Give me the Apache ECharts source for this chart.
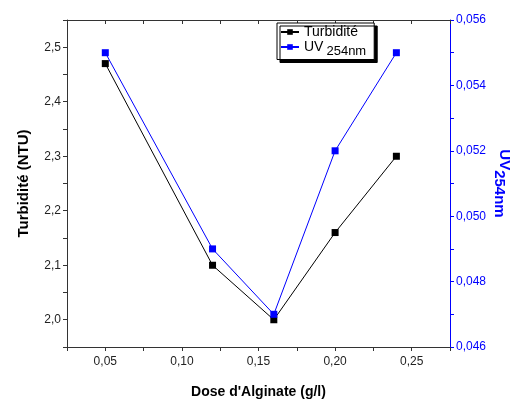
<!DOCTYPE html>
<html><head><meta charset="utf-8">
<script src="https://cdn.jsdelivr.net/npm/echarts@6/dist/echarts.min.js"></script>
<style>html,body{margin:0;padding:0;background:#fff}#c{width:515px;height:401px}</style>
</head><body><div id="c"></div>
<script>
var doses = [0.05, 0.12, 0.16, 0.20, 0.24];
var turbidite = [2.47, 2.10, 2.00, 2.16, 2.30];
var uv254 = [0.055, 0.049, 0.047, 0.052, 0.055];
var seriesNames = ['Turbidité', 'UV254nm'];
var xTitle = "Dose d'Alginate (g/l)";
var yLeftTitle = 'Turbidité (NTU)';

var FONT = '"Liberation Sans", Arial, sans-serif';
var BLUE = '#0000FF';
function comma(v, d) { return v.toFixed(d).replace('.', ','); }
function pairs(xs, ys) { return xs.map(function (x, i) { return [x, ys[i]]; }); }

var chart = echarts.init(document.getElementById('c'), null, {renderer: 'canvas'});
chart.setOption({
  animation: false,
  backgroundColor: '#fff',
  grid: {left: 67, right: 65, top: 20, bottom: 54, containLabel: false, outerBoundsMode: 'none'},
  legend: {
    data: seriesNames,
    orient: 'vertical',
    left: 277, top: 23,
    width: 100,
    itemWidth: 18, itemHeight: 7, itemGap: 1,
    padding: [2, 8, 2, 3],
    backgroundColor: '#fff',
    borderColor: '#000', borderWidth: 1,
    shadowColor: '#000', shadowOffsetX: 3, shadowOffsetY: 3, shadowBlur: 0,
    textStyle: {
      fontFamily: FONT, fontSize: 14, color: '#000',
      rich: {
        a: {fontFamily: FONT, fontSize: 14, color: '#000'},
        b: {fontFamily: FONT, fontSize: 13, color: '#000', padding: [8, 0, 0, 3]}
      }
    },
    formatter: function (n) { return n === 'UV254nm' ? '{a|UV}{b|254nm}' : n; }
  },
  xAxis: [{
    type: 'value', min: 0.025, max: 0.275, interval: 0.025,
    name: xTitle, nameLocation: 'middle', nameGap: 38,
    nameTextStyle: {fontFamily: FONT, fontSize: 14, fontWeight: 'bold', color: '#000'},
    axisLine: {show: true, onZero: false, lineStyle: {color: '#333', width: 1}},
    axisTick: {show: true, inside: false, length: 4, lineStyle: {color: '#333'}},
    axisLabel: {fontFamily: FONT, fontSize: 12, color: '#222', margin: 9,
      formatter: function (v) { return Math.round(v * 1000) % 50 === 0 ? comma(v, 2) : ''; }},
    splitLine: {show: false}
  }, {
    type: 'value', position: 'top', min: 0.025, max: 0.275, interval: 0.025,
    axisLine: {show: true, onZero: false, lineStyle: {color: '#333', width: 1}},
    axisTick: {show: true, inside: true, length: 4, lineStyle: {color: '#333'}},
    axisLabel: {show: false},
    splitLine: {show: false}
  }],
  yAxis: [{
    type: 'value', position: 'left', min: 1.95, max: 2.55, interval: 0.05,
    name: yLeftTitle, nameLocation: 'middle', nameGap: 36, nameRotate: 90,
    nameTextStyle: {fontFamily: FONT, fontSize: 15, fontWeight: 'bold', color: '#000'},
    axisLine: {show: true, onZero: false, lineStyle: {color: '#333', width: 1}},
    axisTick: {show: true, inside: false, length: 4, lineStyle: {color: '#333'}},
    axisLabel: {fontFamily: FONT, fontSize: 12, color: '#222', margin: 6,
      formatter: function (v) { return Math.round(v * 100) % 10 === 0 ? comma(v, 1) : ''; }},
    splitLine: {show: false}
  }, {
    type: 'value', position: 'right', min: 0.046, max: 0.056, interval: 0.002,
    name: '{a|UV}{b|254nm}', nameLocation: 'middle', nameGap: 42, nameRotate: -90,
    nameMoveOverlap: false,
    nameTextStyle: {fontFamily: FONT, fontSize: 15, fontWeight: 'bold', color: BLUE,
      rich: {
        a: {fontFamily: FONT, fontSize: 15, fontWeight: 'bold', color: BLUE},
        b: {fontFamily: FONT, fontSize: 15, fontWeight: 'bold', color: BLUE, padding: [9, 0, 0, 0]}
      }},
    axisLine: {show: true, onZero: false, lineStyle: {color: BLUE, width: 1}},
    axisTick: {show: true, inside: false, length: 4, lineStyle: {color: BLUE}},
    minorTick: {show: true, splitNumber: 2, length: 4, lineStyle: {color: BLUE}},
    axisLabel: {fontFamily: FONT, fontSize: 12, color: BLUE, margin: 6,
      formatter: function (v) { return comma(v, 3); }},
    splitLine: {show: false}
  }],
  series: [{
    name: seriesNames[0], type: 'line', xAxisIndex: 0, yAxisIndex: 0,
    data: pairs(doses, turbidite),
    symbol: 'rect', symbolSize: 7,
    lineStyle: {color: '#000', width: 1},
    itemStyle: {color: '#000'}
  }, {
    name: seriesNames[1], type: 'line', xAxisIndex: 0, yAxisIndex: 1,
    data: pairs(doses, uv254),
    symbol: 'rect', symbolSize: 7,
    lineStyle: {color: BLUE, width: 1},
    itemStyle: {color: BLUE}
  }]
});
</script></body></html>
